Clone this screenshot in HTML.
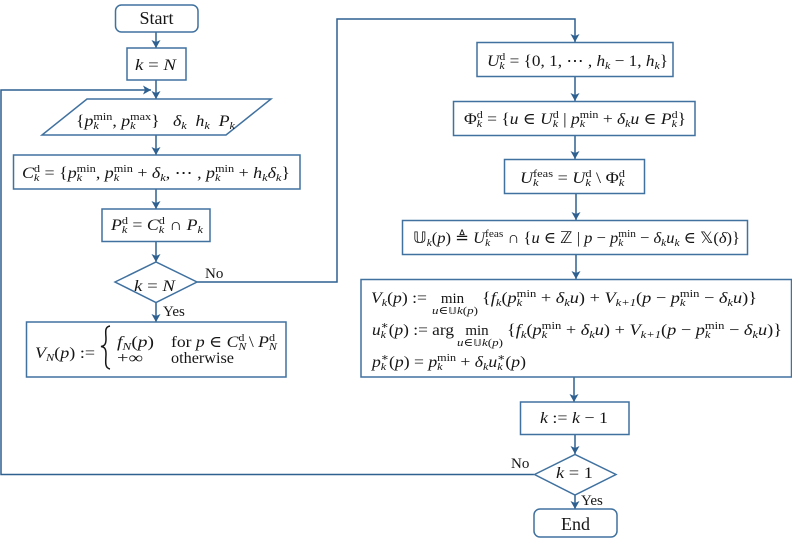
<!DOCTYPE html>
<html>
<head>
<meta charset="utf-8">
<style>
html,body{margin:0;padding:0;background:#fff;width:792px;height:546px;overflow:hidden}
svg{display:block}
text{font-family:"Liberation Serif","DejaVu Serif",serif;fill:#151515;font-size:16px;white-space:pre}
.i{font-style:italic}
.r{font-style:normal}
.b{font-size:11px;font-style:italic}
.u{font-size:11px;font-style:normal}
.ui{font-size:11px;font-style:italic}
.ds{font-family:"DejaVu Sans",sans-serif;font-style:normal}
.box{fill:#fff;stroke:#3f719f;stroke-width:1.5}
.ln{fill:none;stroke:#2f6090;stroke-width:1.5}
</style>
</head>
<body>
<svg width="792" height="546" viewBox="0 0 792 546" xmlns="http://www.w3.org/2000/svg">
<defs>
<marker id="a" markerUnits="userSpaceOnUse" markerWidth="12" markerHeight="12" refX="8" refY="4.500" orient="auto">
<path d="M0,0 L8,4.500 L0,9 L2,4.500 Z" fill="#2f6090"/>
</marker>
<filter id="sb" x="-5%" y="-5%" width="110%" height="110%"><feGaussianBlur stdDeviation="0.25"/></filter>
</defs>
<g filter="url(#sb)">
<!-- connectors -->
<path class="ln" d="M156,32V48" marker-end="url(#a)"/>
<path class="ln" d="M156,80V99" marker-end="url(#a)"/>
<path class="ln" d="M156,135V155" marker-end="url(#a)"/>
<path class="ln" d="M156,189V209" marker-end="url(#a)"/>
<path class="ln" d="M156,241V262" marker-end="url(#a)"/>
<path class="ln" d="M156,302V322" marker-end="url(#a)"/>
<path class="ln" d="M534,474.500H1V90H151" marker-end="url(#a)"/>
<path class="ln" d="M197,282H337V19H575V42" marker-end="url(#a)"/>
<path class="ln" d="M575,76V101" marker-end="url(#a)"/>
<path class="ln" d="M575,135V159" marker-end="url(#a)"/>
<path class="ln" d="M576,193V220" marker-end="url(#a)"/>
<path class="ln" d="M576,254V279" marker-end="url(#a)"/>
<path class="ln" d="M574,377V402" marker-end="url(#a)"/>
<path class="ln" d="M575,434V454" marker-end="url(#a)"/>
<path class="ln" d="M575,495V509" marker-end="url(#a)"/>

<!-- shapes -->
<rect class="box" x="115.500" y="5" width="82.500" height="27" rx="6"/>
<rect class="box" x="127" y="48" width="59" height="32"/>
<polygon class="box" points="87,99 271,99 226,135 42,135"/>
<rect class="box" x="13.500" y="155" width="286.500" height="34"/>
<rect class="box" x="102" y="209" width="108" height="32.500"/>
<polygon class="box" points="115,282 156,262 197,282 156,302.500"/>
<rect class="box" x="26.500" y="322" width="259.500" height="55"/>
<rect class="box" x="477" y="42.500" width="196" height="34"/>
<rect class="box" x="453.500" y="101.500" width="241.500" height="34"/>
<rect class="box" x="504.500" y="159.500" width="140" height="34"/>
<rect class="box" x="402.500" y="220.500" width="345" height="34"/>
<rect class="box" x="361" y="279.500" width="430.500" height="97.500"/>
<rect class="box" x="520.500" y="402" width="108.500" height="32.500"/>
<polygon class="box" points="534.500,474.500 575,454.500 616,474.500 575,495"/>
<rect class="box" x="534" y="509" width="83" height="28" rx="6"/>

<!-- labels -->
<text x="156.500" y="24" text-anchor="middle" style="font-size:18px">Start</text>
<text x="135" y="70" textLength="41" lengthAdjust="spacingAndGlyphs" class="i">k <tspan class="r">=</tspan> N</text>

<text x="76" y="126" textLength="159" lengthAdjust="spacingAndGlyphs"><tspan class="r">{</tspan><tspan class="i">p</tspan><tspan class="b" dy="3">k</tspan><tspan class="u" dx="-4.900" dy="-9">min</tspan><tspan dy="6">,</tspan><tspan class="i"> p</tspan><tspan class="b" dy="3">k</tspan><tspan class="u" dx="-4.900" dy="-9">max</tspan><tspan dy="6">}   </tspan><tspan class="i">δ</tspan><tspan class="b" dy="3">k</tspan><tspan dy="-3">  </tspan><tspan class="i">h</tspan><tspan class="b" dy="3">k</tspan><tspan dy="-3">  </tspan><tspan class="i">P</tspan><tspan class="b" dy="3">k</tspan></text>

<text x="22" y="178" textLength="268" lengthAdjust="spacingAndGlyphs"><tspan class="i">C</tspan><tspan class="b" dy="3">k</tspan><tspan class="u" dx="-4.900" dy="-9">d</tspan><tspan dy="6"> = {</tspan><tspan class="i">p</tspan><tspan class="b" dy="3">k</tspan><tspan class="u" dx="-4.900" dy="-9">min</tspan><tspan dy="6">, </tspan><tspan class="i">p</tspan><tspan class="b" dy="3">k</tspan><tspan class="u" dx="-4.900" dy="-9">min</tspan><tspan dy="6"> + </tspan><tspan class="i">δ</tspan><tspan class="b" dy="3">k</tspan><tspan dy="-3">, ⋯ , </tspan><tspan class="i">p</tspan><tspan class="b" dy="3">k</tspan><tspan class="u" dx="-4.900" dy="-9">min</tspan><tspan dy="6"> + </tspan><tspan class="i">h</tspan><tspan class="b" dy="3">k</tspan><tspan class="i" dy="-3">δ</tspan><tspan class="b" dy="3">k</tspan><tspan dy="-3">}</tspan></text>

<text x="111" y="230" textLength="92" lengthAdjust="spacingAndGlyphs"><tspan class="i">P</tspan><tspan class="b" dy="3">k</tspan><tspan class="u" dx="-4.900" dy="-9">d</tspan><tspan dy="6"> = </tspan><tspan class="i">C</tspan><tspan class="b" dy="3">k</tspan><tspan class="u" dx="-4.900" dy="-9">d</tspan><tspan dy="6"> ∩ </tspan><tspan class="i">P</tspan><tspan class="b" dy="3">k</tspan></text>

<text x="134" y="291" textLength="41" lengthAdjust="spacingAndGlyphs" class="i">k <tspan class="r">=</tspan> N</text>
<text x="205" y="278" style="font-size:15px">No</text>
<text x="163" y="316" style="font-size:15px">Yes</text>

<text x="35" y="358" textLength="60" lengthAdjust="spacingAndGlyphs"><tspan class="i">V</tspan><tspan class="b" dy="3">N</tspan><tspan dy="-3">(</tspan><tspan class="i">p</tspan><tspan>) :=</tspan></text>
<path d="M110,326 C104,327 106,333 106,339 C106,345 104,346 101,346.500 C104,347 106,348 106,354 C106,360 104,368 110,369" fill="none" stroke="#151515" stroke-width="1.500"/>
<text x="117" y="347" textLength="37" lengthAdjust="spacingAndGlyphs"><tspan class="i">f</tspan><tspan class="b" dy="3">N</tspan><tspan dy="-3">(</tspan><tspan class="i">p</tspan><tspan>)</tspan></text>
<text x="171" y="347" textLength="106" lengthAdjust="spacingAndGlyphs">for <tspan class="i">p</tspan> ∈ <tspan class="i">C</tspan><tspan class="b" dy="3">N</tspan><tspan class="u" dx="-7.300" dy="-9">d</tspan><tspan dy="6"> \ </tspan><tspan class="i">P</tspan><tspan class="b" dy="3">N</tspan><tspan class="u" dx="-7.300" dy="-9">d</tspan></text>
<text x="117" y="363" textLength="26" lengthAdjust="spacingAndGlyphs">+∞</text>
<text x="171" y="363" textLength="63" lengthAdjust="spacingAndGlyphs">otherwise</text>

<text x="487" y="66" textLength="181" lengthAdjust="spacingAndGlyphs"><tspan class="i">U</tspan><tspan class="b" dy="3">k</tspan><tspan class="u" dx="-4.900" dy="-9">d</tspan><tspan dy="6"> = {0, 1, ⋯ , </tspan><tspan class="i">h</tspan><tspan class="b" dy="3">k</tspan><tspan dy="-3"> − 1, </tspan><tspan class="i">h</tspan><tspan class="b" dy="3">k</tspan><tspan dy="-3">}</tspan></text>

<text x="464" y="124" textLength="222" lengthAdjust="spacingAndGlyphs">Φ<tspan class="b" dy="3">k</tspan><tspan class="u" dx="-4.900" dy="-9">d</tspan><tspan dy="6"> = {</tspan><tspan class="i">u</tspan> ∈ <tspan class="i">U</tspan><tspan class="b" dy="3">k</tspan><tspan class="u" dx="-4.900" dy="-9">d</tspan><tspan dy="6"> | </tspan><tspan class="i">p</tspan><tspan class="b" dy="3">k</tspan><tspan class="u" dx="-4.900" dy="-9">min</tspan><tspan dy="6"> + </tspan><tspan class="i">δ</tspan><tspan class="b" dy="3">k</tspan><tspan class="i" dy="-3">u</tspan> ∈ <tspan class="i">P</tspan><tspan class="b" dy="3">k</tspan><tspan class="u" dx="-4.900" dy="-9">d</tspan><tspan dy="6">}</tspan></text>

<text x="520" y="183" textLength="105" lengthAdjust="spacingAndGlyphs"><tspan class="i">U</tspan><tspan class="b" dy="3">k</tspan><tspan class="u" dx="-4.900" dy="-9">feas</tspan><tspan dy="6"> = </tspan><tspan class="i">U</tspan><tspan class="b" dy="3">k</tspan><tspan class="u" dx="-4.900" dy="-9">d</tspan><tspan dy="6"> \ Φ</tspan><tspan class="b" dy="3">k</tspan><tspan class="u" dx="-4.900" dy="-9">d</tspan></text>

<text x="413" y="243" textLength="327" lengthAdjust="spacingAndGlyphs"><tspan class="ds">𝕌</tspan><tspan class="b" dy="3">k</tspan><tspan dy="-3">(</tspan><tspan class="i">p</tspan>) ≜ <tspan class="i">U</tspan><tspan class="b" dy="3">k</tspan><tspan class="u" dx="-4.900" dy="-9">feas</tspan><tspan dy="6"> ∩ {</tspan><tspan class="i">u</tspan> ∈ <tspan class="ds">ℤ</tspan> | <tspan class="i">p</tspan> − <tspan class="i">p</tspan><tspan class="b" dy="3">k</tspan><tspan class="u" dx="-4.900" dy="-9">min</tspan><tspan dy="6"> − </tspan><tspan class="i">δ</tspan><tspan class="b" dy="3">k</tspan><tspan class="i" dy="-3">u</tspan><tspan class="b" dy="3">k</tspan><tspan dy="-3"> ∈ </tspan><tspan class="ds">𝕏</tspan>(<tspan class="i">δ</tspan>)}</text>

<text x="371" y="303" textLength="56" lengthAdjust="spacingAndGlyphs"><tspan class="i">V</tspan><tspan class="b" dy="3">k</tspan><tspan dy="-3">(</tspan><tspan class="i">p</tspan>) :=</text>
<text x="452.500" y="303" text-anchor="middle" style="font-size:15px">min</text>
<text x="432" y="314" textLength="46" lengthAdjust="spacingAndGlyphs" class="ui">u<tspan class="u">∈</tspan><tspan class="u ds" style="font-size:9px">𝕌</tspan>k<tspan class="u">(</tspan>p<tspan class="u">)</tspan></text>
<text x="482" y="303" textLength="275" lengthAdjust="spacingAndGlyphs">{<tspan class="i">f</tspan><tspan class="b" dy="3">k</tspan><tspan dy="-3">(</tspan><tspan class="i">p</tspan><tspan class="b" dy="3">k</tspan><tspan class="u" dx="-4.900" dy="-9">min</tspan><tspan dy="6"> + </tspan><tspan class="i">δ</tspan><tspan class="b" dy="3">k</tspan><tspan class="i" dy="-3">u</tspan>) + <tspan class="i">V</tspan><tspan class="b" dy="3">k+1</tspan><tspan dy="-3">(</tspan><tspan class="i">p</tspan> − <tspan class="i">p</tspan><tspan class="b" dy="3">k</tspan><tspan class="u" dx="-4.900" dy="-9">min</tspan><tspan dy="6"> − </tspan><tspan class="i">δ</tspan><tspan class="b" dy="3">k</tspan><tspan class="i" dy="-3">u</tspan>)}</text>

<text x="372" y="335" textLength="82" lengthAdjust="spacingAndGlyphs"><tspan class="i">u</tspan><tspan class="b" dy="3">k</tspan><tspan class="u" dx="-4.900" dy="-9">∗</tspan><tspan dy="6">(</tspan><tspan class="i">p</tspan>) := arg</text>
<text x="477" y="335" text-anchor="middle" style="font-size:15px">min</text>
<text x="457" y="346" textLength="46" lengthAdjust="spacingAndGlyphs" class="ui">u<tspan class="u">∈</tspan><tspan class="u ds" style="font-size:9px">𝕌</tspan>k<tspan class="u">(</tspan>p<tspan class="u">)</tspan></text>
<text x="507" y="335" textLength="275" lengthAdjust="spacingAndGlyphs">{<tspan class="i">f</tspan><tspan class="b" dy="3">k</tspan><tspan dy="-3">(</tspan><tspan class="i">p</tspan><tspan class="b" dy="3">k</tspan><tspan class="u" dx="-4.900" dy="-9">min</tspan><tspan dy="6"> + </tspan><tspan class="i">δ</tspan><tspan class="b" dy="3">k</tspan><tspan class="i" dy="-3">u</tspan>) + <tspan class="i">V</tspan><tspan class="b" dy="3">k+1</tspan><tspan dy="-3">(</tspan><tspan class="i">p</tspan> − <tspan class="i">p</tspan><tspan class="b" dy="3">k</tspan><tspan class="u" dx="-4.900" dy="-9">min</tspan><tspan dy="6"> − </tspan><tspan class="i">δ</tspan><tspan class="b" dy="3">k</tspan><tspan class="i" dy="-3">u</tspan>)}</text>

<text x="372" y="367" textLength="154" lengthAdjust="spacingAndGlyphs"><tspan class="i">p</tspan><tspan class="b" dy="3">k</tspan><tspan class="u" dx="-4.900" dy="-9">∗</tspan><tspan dy="6">(</tspan><tspan class="i">p</tspan>) = <tspan class="i">p</tspan><tspan class="b" dy="3">k</tspan><tspan class="u" dx="-4.900" dy="-9">min</tspan><tspan dy="6"> + </tspan><tspan class="i">δ</tspan><tspan class="b" dy="3">k</tspan><tspan class="i" dy="-3">u</tspan><tspan class="b" dy="3">k</tspan><tspan class="u" dx="-4.900" dy="-9">∗</tspan><tspan dy="6">(</tspan><tspan class="i">p</tspan>)</text>

<text x="540" y="423" textLength="68" lengthAdjust="spacingAndGlyphs"><tspan class="i">k</tspan> := <tspan class="i">k</tspan> − 1</text>
<text x="556" y="478" textLength="37" lengthAdjust="spacingAndGlyphs"><tspan class="i">k</tspan> = 1</text>
<text x="511" y="468" style="font-size:15px">No</text>
<text x="581" y="505" style="font-size:15px">Yes</text>
<text x="575.500" y="530" text-anchor="middle" style="font-size:18px">End</text>
</g>
</svg>
</body>
</html>
